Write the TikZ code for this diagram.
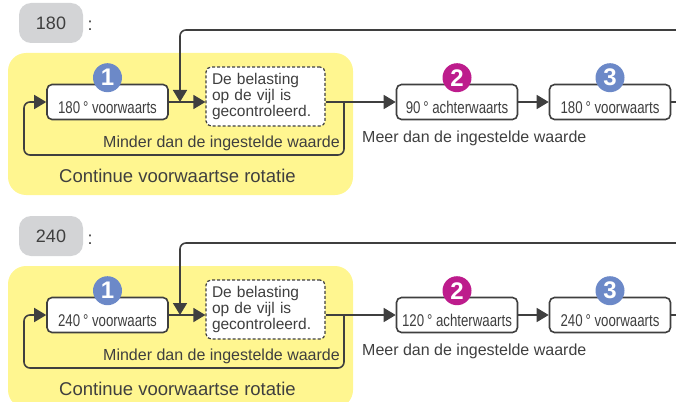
\documentclass[tikz,border=0pt]{standalone}
\usepackage{fontspec}
\setmainfont{Liberation Sans}
\newfontfamily\narrowfont{Liberation Sans}[FakeStretch=0.78]
\usetikzlibrary{arrows.meta}

\definecolor{ink}{HTML}{3F3F3F}
\definecolor{zone}{HTML}{FFF690}
\definecolor{tagfill}{HTML}{D3D4D6}
\definecolor{stepblue}{HTML}{6C89C8}
\definecolor{stepmag}{HTML}{BD1C8C}

\tikzset{
  tag/.style={fill=tagfill, rounded corners=12pt, minimum width=64pt, minimum height=40pt, font=\fontsize{18}{20}\selectfont},
  stepbox/.style={draw=ink, line width=1.6pt, fill=white, rounded corners=5pt, minimum width=121pt, minimum height=35pt,
    inner ysep=0pt, text height=29pt, text depth=6pt, font=\narrowfont\fontsize{17}{18}\selectfont},
  checkbox/.style={draw=ink, line width=1.2pt, dash pattern=on 3pt off 2pt, fill=white, rounded corners=5pt,
    text width=107pt, inner xsep=6pt, minimum height=59pt, align=left, font=\fontsize{15.5}{16}\selectfont},
  badge/.style={circle, minimum size=29pt, inner sep=0pt, text=white, font=\bfseries\fontsize{24}{24}\selectfont},
  note/.style={inner sep=0pt},
  line/.style={draw=ink, line width=1.6pt},
  flow/.style={line, -{Triangle[length=12pt,width=14pt]}}
}

\begin{document}
\begin{tikzpicture}[x=1pt, y=-1pt, font=\fontsize{16}{17}\selectfont, text=ink]
\clip (0,0) rectangle (676,401);

\foreach \ang/\back/\dy/\k in {180/90/0/a, 240/120/213/b}{
\begin{scope}[yshift=-\dy pt]
% angle value
\node[tag] (tag\k) at (51,23) {\ang};
\node[note, anchor=base, font=\fontsize{18}{20}\selectfont] (colon\k) at (90,31) {:};

% continuous forward rotation
\fill[zone, rounded corners=18pt] (8,53) rectangle (353,195);

\node[stepbox] (one\k) at (107.5,102) {\ang\,° voorwaarts};
\node[checkbox] (check\k) at (265.5,96.5) {De belasting\\op de vijl is\\gecontroleerd.};
\node[stepbox] (two\k) at (457,102) {\back\,° achterwaarts};
\node[stepbox] (three\k) at (610,102) {\ang\,° voorwaarts};

\node[badge, fill=stepblue] (nr1\k) at ([yshift=6pt]one\k.north) {1};
\node[badge, fill=stepmag] (nr2\k) at ([yshift=6pt]two\k.north) {2};
\node[badge, fill=stepblue] (nr3\k) at ([yshift=6pt]three\k.north) {3};

\coordinate (top\k) at (676,30);
\coordinate (join\k) at (180,102);
\coordinate (split\k) at (344,102);
\coordinate (loop\k) at (24,155);
\coordinate (exit\k) at (676,102);

\draw[flow] (one\k) -- (check\k.west |- one\k);
\draw[flow, rounded corners=6pt] (top\k) -| (join\k);
\draw[flow] (check\k.east |- one\k) -- (two\k);
\draw[flow, rounded corners=6pt] (split\k) |- (loop\k) |- (one\k);
\draw[flow] (two\k) -- (three\k);
\draw[line] (three\k) -- (exit\k);

\node[note, anchor=base east] (less\k) at (340,147) {Minder dan de ingestelde waarde};
\node[note, anchor=base, font=\fontsize{18.5}{20}\selectfont] (mode\k) at (177.5,182) {Continue voorwaartse rotatie};
\node[note, anchor=base west] (more\k) at (362,142) {Meer dan de ingestelde waarde};
\end{scope}
}
\end{tikzpicture}
\end{document}
